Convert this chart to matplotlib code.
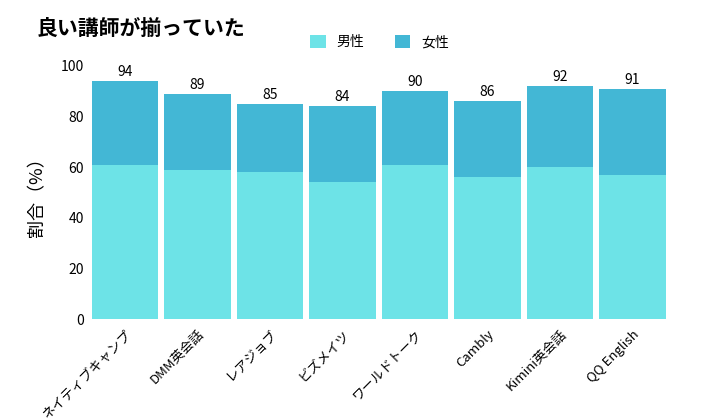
import matplotlib.pyplot as plt
import numpy as np

plt.rcParams['font.family'] = ['Noto Sans CJK JP', 'DejaVu Sans']

categories = ["ネイティブキャンプ", "DMM英会話", "レアジョブ", "ビズメイツ", "ワールドトーク",
              "Cambly", "Kimini英会話", "QQ English"]
male = [61, 59, 58, 54, 61, 56, 60, 57]
totals = [94, 89, 85, 84, 90, 86, 92, 91]
female = [t - m for t, m in zip(totals, male)]

male_color = "#6de3e7"
female_color = "#43b7d5"

fig = plt.figure(figsize=(7.1, 4.2), dpi=100)
ax = fig.add_axes([0.125, 0.24, 0.817, 0.603])

x = np.arange(len(categories))
ax.bar(x, male, width=0.92, color=male_color, label="男性")
ax.bar(x, female, width=0.92, bottom=male, color=female_color, label="女性")

# total labels above each stack
for xi, t in zip(x, totals):
    ax.text(xi, t + 0.8, str(t), ha="center", va="bottom", fontsize=10)

ax.set_xlim(-0.5, len(categories) - 0.5)
ax.set_ylim(0, 100)
ax.set_yticks([0, 20, 40, 60, 80, 100])
ax.tick_params(axis="y", length=0, labelsize=10)
ax.tick_params(axis="x", length=0, labelsize=9.5, pad=6)
ax.set_xticks(x)
ax.set_xticklabels(categories, rotation=45, ha="right", rotation_mode="anchor")
for s in ax.spines.values():
    s.set_visible(False)

ax.set_ylabel("割合（%）", fontsize=13, labelpad=10)

fig.text(0.052, 0.932, "良い講師が揃っていた", fontsize=15, fontweight="bold", va="center")
fig.legend(loc="center", bbox_to_anchor=(0.535, 0.9), ncol=2, frameon=False,
           fontsize=10, handlelength=1.1, handleheight=1.1, columnspacing=2.2)

fig.savefig("out.png", dpi=100)
